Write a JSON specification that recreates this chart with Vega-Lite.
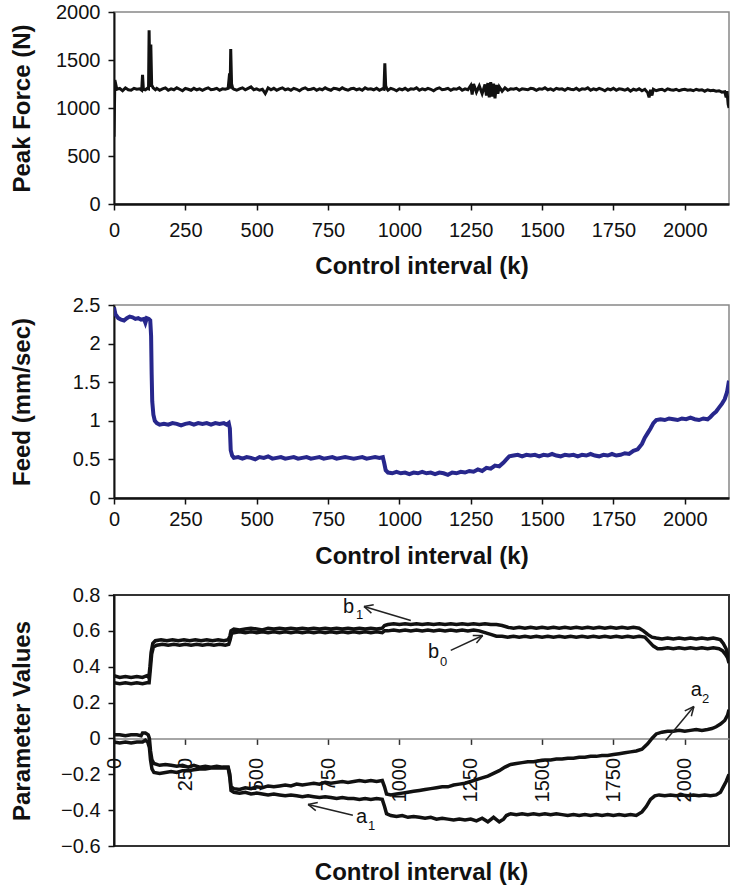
{
"$schema": "https://vega.github.io/schema/vega-lite/v6.json",
"padding": {"left": 8, "top": 1, "right": 1, "bottom": 0},
"spacing": 15,
"config": {"font": "Liberation Sans", "view": {"stroke": "#888", "strokeWidth": 1.5},
 "axis": {"grid": false, "labelFontSize": 20, "labelColor": "#111", "titleFontSize": 24, "titleFontWeight": "bold", "titleColor": "#111", "domainColor": "#111", "domainWidth": 2, "tickColor": "#111", "tickWidth": 1.5, "tickSize": 6, "labelFlush": false, "labelOverlap": false, "labelBound": false}},
"datasets": {
"force": [{"k":0,"v":700},{"k":3,"v":1290},{"k":10,"v":1195},{"k":20,"v":1205},{"k":30,"v":1180},{"k":40,"v":1210},{"k":50,"v":1190},{"k":60,"v":1185},{"k":70,"v":1205},{"k":80,"v":1195},{"k":90,"v":1200},{"k":97,"v":1185},{"k":100,"v":1345},{"k":103,"v":1195},{"k":110,"v":1190},{"k":117,"v":1205},{"k":121,"v":1200},{"k":123,"v":1810},{"k":126,"v":1220},{"k":129,"v":1660},{"k":132,"v":1240},{"k":137,"v":1210},{"k":145,"v":1190},{"k":150,"v":1205},{"k":160,"v":1185},{"k":170,"v":1200},{"k":180,"v":1210},{"k":190,"v":1185},{"k":200,"v":1200},{"k":210,"v":1190},{"k":220,"v":1210},{"k":230,"v":1195},{"k":240,"v":1180},{"k":250,"v":1205},{"k":260,"v":1195},{"k":270,"v":1185},{"k":280,"v":1205},{"k":290,"v":1190},{"k":300,"v":1200},{"k":310,"v":1185},{"k":320,"v":1200},{"k":330,"v":1210},{"k":340,"v":1190},{"k":350,"v":1195},{"k":360,"v":1205},{"k":370,"v":1185},{"k":380,"v":1200},{"k":390,"v":1195},{"k":400,"v":1205},{"k":405,"v":1360},{"k":407,"v":1200},{"k":409,"v":1615},{"k":412,"v":1250},{"k":416,"v":1205},{"k":420,"v":1195},{"k":430,"v":1185},{"k":440,"v":1200},{"k":450,"v":1210},{"k":460,"v":1190},{"k":470,"v":1205},{"k":480,"v":1220},{"k":490,"v":1190},{"k":500,"v":1200},{"k":510,"v":1185},{"k":520,"v":1195},{"k":530,"v":1150},{"k":540,"v":1210},{"k":550,"v":1190},{"k":560,"v":1205},{"k":570,"v":1185},{"k":580,"v":1200},{"k":590,"v":1210},{"k":600,"v":1190},{"k":610,"v":1200},{"k":620,"v":1185},{"k":630,"v":1205},{"k":640,"v":1195},{"k":650,"v":1180},{"k":660,"v":1200},{"k":670,"v":1210},{"k":680,"v":1190},{"k":690,"v":1195},{"k":700,"v":1205},{"k":710,"v":1185},{"k":720,"v":1200},{"k":730,"v":1190},{"k":740,"v":1210},{"k":750,"v":1195},{"k":760,"v":1185},{"k":770,"v":1205},{"k":780,"v":1200},{"k":790,"v":1190},{"k":800,"v":1210},{"k":810,"v":1195},{"k":820,"v":1185},{"k":830,"v":1200},{"k":840,"v":1205},{"k":850,"v":1190},{"k":860,"v":1200},{"k":870,"v":1185},{"k":880,"v":1210},{"k":890,"v":1195},{"k":900,"v":1200},{"k":910,"v":1190},{"k":920,"v":1205},{"k":930,"v":1185},{"k":940,"v":1200},{"k":946,"v":1195},{"k":949,"v":1465},{"k":952,"v":1230},{"k":956,"v":1200},{"k":960,"v":1185},{"k":970,"v":1205},{"k":980,"v":1195},{"k":990,"v":1180},{"k":1000,"v":1200},{"k":1010,"v":1190},{"k":1020,"v":1205},{"k":1030,"v":1185},{"k":1040,"v":1200},{"k":1050,"v":1195},{"k":1060,"v":1210},{"k":1070,"v":1185},{"k":1080,"v":1200},{"k":1090,"v":1190},{"k":1100,"v":1205},{"k":1110,"v":1195},{"k":1120,"v":1180},{"k":1130,"v":1200},{"k":1140,"v":1210},{"k":1150,"v":1190},{"k":1160,"v":1195},{"k":1170,"v":1205},{"k":1180,"v":1185},{"k":1190,"v":1200},{"k":1200,"v":1195},{"k":1210,"v":1210},{"k":1220,"v":1185},{"k":1230,"v":1200},{"k":1240,"v":1190},{"k":1250,"v":1235},{"k":1255,"v":1140},{"k":1260,"v":1250},{"k":1270,"v":1165},{"k":1280,"v":1230},{"k":1290,"v":1150},{"k":1300,"v":1245},{"k":1305,"v":1130},{"k":1310,"v":1260},{"k":1315,"v":1110},{"k":1320,"v":1270},{"k":1325,"v":1120},{"k":1330,"v":1255},{"k":1335,"v":1100},{"k":1340,"v":1240},{"k":1345,"v":1150},{"k":1350,"v":1220},{"k":1360,"v":1175},{"k":1370,"v":1210},{"k":1380,"v":1185},{"k":1390,"v":1200},{"k":1400,"v":1195},{"k":1410,"v":1205},{"k":1420,"v":1185},{"k":1430,"v":1200},{"k":1440,"v":1195},{"k":1450,"v":1190},{"k":1460,"v":1205},{"k":1470,"v":1200},{"k":1480,"v":1185},{"k":1490,"v":1200},{"k":1500,"v":1195},{"k":1510,"v":1210},{"k":1520,"v":1190},{"k":1530,"v":1200},{"k":1540,"v":1185},{"k":1550,"v":1205},{"k":1560,"v":1195},{"k":1570,"v":1200},{"k":1580,"v":1185},{"k":1590,"v":1205},{"k":1600,"v":1195},{"k":1610,"v":1190},{"k":1620,"v":1205},{"k":1630,"v":1185},{"k":1640,"v":1200},{"k":1650,"v":1195},{"k":1660,"v":1210},{"k":1670,"v":1185},{"k":1680,"v":1200},{"k":1690,"v":1190},{"k":1700,"v":1205},{"k":1710,"v":1195},{"k":1720,"v":1180},{"k":1730,"v":1200},{"k":1740,"v":1190},{"k":1750,"v":1205},{"k":1760,"v":1185},{"k":1770,"v":1200},{"k":1780,"v":1195},{"k":1790,"v":1185},{"k":1800,"v":1200},{"k":1810,"v":1175},{"k":1820,"v":1195},{"k":1830,"v":1185},{"k":1840,"v":1200},{"k":1850,"v":1180},{"k":1860,"v":1195},{"k":1870,"v":1160},{"k":1875,"v":1110},{"k":1880,"v":1190},{"k":1885,"v":1130},{"k":1890,"v":1195},{"k":1900,"v":1180},{"k":1910,"v":1190},{"k":1920,"v":1195},{"k":1930,"v":1180},{"k":1940,"v":1200},{"k":1950,"v":1190},{"k":1960,"v":1185},{"k":1970,"v":1195},{"k":1980,"v":1180},{"k":1990,"v":1190},{"k":2000,"v":1195},{"k":2010,"v":1185},{"k":2020,"v":1190},{"k":2030,"v":1180},{"k":2040,"v":1195},{"k":2050,"v":1185},{"k":2060,"v":1190},{"k":2070,"v":1175},{"k":2080,"v":1190},{"k":2090,"v":1180},{"k":2100,"v":1185},{"k":2110,"v":1175},{"k":2120,"v":1180},{"k":2130,"v":1165},{"k":2140,"v":1170},{"k":2145,"v":1110},{"k":2148,"v":1175},{"k":2152,"v":1040},{"k":2155,"v":1000}],
"feed": [{"k":0,"v":2.47},{"k":5,"v":2.38},{"k":15,"v":2.33},{"k":25,"v":2.31},{"k":35,"v":2.3},{"k":45,"v":2.33},{"k":55,"v":2.35},{"k":65,"v":2.34},{"k":75,"v":2.32},{"k":85,"v":2.33},{"k":95,"v":2.31},{"k":105,"v":2.32},{"k":110,"v":2.27},{"k":115,"v":2.33},{"k":122,"v":2.32},{"k":127,"v":2.3},{"k":130,"v":2.1},{"k":132,"v":1.6},{"k":134,"v":1.25},{"k":138,"v":1.08},{"k":143,"v":1.0},{"k":150,"v":0.97},{"k":160,"v":0.95},{"k":175,"v":0.96},{"k":190,"v":0.95},{"k":205,"v":0.97},{"k":220,"v":0.96},{"k":235,"v":0.94},{"k":250,"v":0.96},{"k":265,"v":0.97},{"k":280,"v":0.95},{"k":295,"v":0.97},{"k":310,"v":0.96},{"k":325,"v":0.97},{"k":340,"v":0.95},{"k":355,"v":0.97},{"k":370,"v":0.96},{"k":385,"v":0.97},{"k":395,"v":0.95},{"k":402,"v":0.97},{"k":406,"v":0.9},{"k":409,"v":0.62},{"k":414,"v":0.55},{"k":420,"v":0.52},{"k":435,"v":0.53},{"k":450,"v":0.51},{"k":465,"v":0.53},{"k":480,"v":0.52},{"k":495,"v":0.5},{"k":510,"v":0.53},{"k":525,"v":0.52},{"k":540,"v":0.54},{"k":555,"v":0.51},{"k":570,"v":0.52},{"k":585,"v":0.53},{"k":600,"v":0.51},{"k":615,"v":0.52},{"k":630,"v":0.53},{"k":645,"v":0.51},{"k":660,"v":0.52},{"k":675,"v":0.53},{"k":690,"v":0.51},{"k":705,"v":0.52},{"k":720,"v":0.53},{"k":735,"v":0.51},{"k":750,"v":0.52},{"k":765,"v":0.53},{"k":780,"v":0.51},{"k":795,"v":0.52},{"k":810,"v":0.53},{"k":825,"v":0.52},{"k":840,"v":0.51},{"k":855,"v":0.52},{"k":870,"v":0.53},{"k":885,"v":0.51},{"k":900,"v":0.52},{"k":915,"v":0.53},{"k":930,"v":0.52},{"k":942,"v":0.53},{"k":947,"v":0.45},{"k":952,"v":0.36},{"k":960,"v":0.33},{"k":975,"v":0.32},{"k":990,"v":0.34},{"k":1005,"v":0.32},{"k":1020,"v":0.33},{"k":1035,"v":0.31},{"k":1050,"v":0.33},{"k":1065,"v":0.32},{"k":1080,"v":0.34},{"k":1095,"v":0.32},{"k":1110,"v":0.33},{"k":1125,"v":0.31},{"k":1140,"v":0.33},{"k":1155,"v":0.32},{"k":1170,"v":0.3},{"k":1185,"v":0.33},{"k":1200,"v":0.32},{"k":1215,"v":0.34},{"k":1230,"v":0.33},{"k":1245,"v":0.35},{"k":1260,"v":0.34},{"k":1275,"v":0.37},{"k":1290,"v":0.35},{"k":1305,"v":0.39},{"k":1320,"v":0.38},{"k":1335,"v":0.42},{"k":1350,"v":0.41},{"k":1365,"v":0.46},{"k":1375,"v":0.5},{"k":1385,"v":0.54},{"k":1400,"v":0.55},{"k":1415,"v":0.56},{"k":1430,"v":0.54},{"k":1445,"v":0.56},{"k":1460,"v":0.55},{"k":1475,"v":0.56},{"k":1490,"v":0.54},{"k":1505,"v":0.56},{"k":1520,"v":0.55},{"k":1535,"v":0.57},{"k":1550,"v":0.55},{"k":1565,"v":0.54},{"k":1580,"v":0.56},{"k":1595,"v":0.55},{"k":1610,"v":0.56},{"k":1625,"v":0.54},{"k":1640,"v":0.56},{"k":1655,"v":0.55},{"k":1670,"v":0.57},{"k":1685,"v":0.55},{"k":1700,"v":0.54},{"k":1715,"v":0.56},{"k":1730,"v":0.55},{"k":1745,"v":0.57},{"k":1760,"v":0.55},{"k":1775,"v":0.56},{"k":1790,"v":0.58},{"k":1805,"v":0.57},{"k":1820,"v":0.61},{"k":1835,"v":0.63},{"k":1850,"v":0.7},{"k":1860,"v":0.78},{"k":1870,"v":0.84},{"k":1880,"v":0.9},{"k":1890,"v":0.97},{"k":1900,"v":1.01},{"k":1915,"v":1.02},{"k":1930,"v":1.01},{"k":1945,"v":1.03},{"k":1960,"v":1.02},{"k":1975,"v":1.01},{"k":1990,"v":1.03},{"k":2005,"v":1.02},{"k":2020,"v":1.04},{"k":2035,"v":1.02},{"k":2050,"v":1.01},{"k":2065,"v":1.03},{"k":2080,"v":1.02},{"k":2090,"v":1.05},{"k":2100,"v":1.09},{"k":2110,"v":1.12},{"k":2120,"v":1.17},{"k":2130,"v":1.22},{"k":2140,"v":1.28},{"k":2148,"v":1.37},{"k":2155,"v":1.52}],
"b1": [{"k":0,"v":0.35},{"k":20,"v":0.34},{"k":40,"v":0.345},{"k":60,"v":0.34},{"k":80,"v":0.345},{"k":100,"v":0.34},{"k":115,"v":0.35},{"k":122,"v":0.34},{"k":126,"v":0.4},{"k":130,"v":0.48},{"k":136,"v":0.53},{"k":145,"v":0.545},{"k":165,"v":0.55},{"k":185,"v":0.545},{"k":205,"v":0.55},{"k":225,"v":0.545},{"k":245,"v":0.55},{"k":265,"v":0.545},{"k":285,"v":0.55},{"k":305,"v":0.545},{"k":325,"v":0.55},{"k":345,"v":0.545},{"k":365,"v":0.55},{"k":385,"v":0.545},{"k":400,"v":0.55},{"k":406,"v":0.57},{"k":410,"v":0.6},{"k":420,"v":0.61},{"k":440,"v":0.605},{"k":460,"v":0.61},{"k":480,"v":0.615},{"k":500,"v":0.61},{"k":520,"v":0.605},{"k":540,"v":0.615},{"k":560,"v":0.61},{"k":580,"v":0.615},{"k":600,"v":0.61},{"k":620,"v":0.615},{"k":640,"v":0.61},{"k":660,"v":0.615},{"k":680,"v":0.61},{"k":700,"v":0.615},{"k":720,"v":0.61},{"k":740,"v":0.615},{"k":760,"v":0.61},{"k":780,"v":0.615},{"k":800,"v":0.61},{"k":820,"v":0.615},{"k":840,"v":0.61},{"k":860,"v":0.615},{"k":880,"v":0.61},{"k":900,"v":0.615},{"k":920,"v":0.61},{"k":940,"v":0.615},{"k":948,"v":0.63},{"k":960,"v":0.635},{"k":980,"v":0.64},{"k":1000,"v":0.635},{"k":1020,"v":0.64},{"k":1040,"v":0.635},{"k":1060,"v":0.64},{"k":1080,"v":0.635},{"k":1100,"v":0.64},{"k":1120,"v":0.635},{"k":1140,"v":0.64},{"k":1160,"v":0.635},{"k":1180,"v":0.64},{"k":1200,"v":0.635},{"k":1220,"v":0.64},{"k":1240,"v":0.635},{"k":1260,"v":0.64},{"k":1280,"v":0.635},{"k":1300,"v":0.64},{"k":1320,"v":0.635},{"k":1340,"v":0.635},{"k":1360,"v":0.63},{"k":1380,"v":0.62},{"k":1400,"v":0.615},{"k":1420,"v":0.62},{"k":1440,"v":0.615},{"k":1460,"v":0.62},{"k":1480,"v":0.615},{"k":1500,"v":0.62},{"k":1520,"v":0.615},{"k":1540,"v":0.62},{"k":1560,"v":0.615},{"k":1580,"v":0.62},{"k":1600,"v":0.615},{"k":1620,"v":0.62},{"k":1640,"v":0.615},{"k":1660,"v":0.62},{"k":1680,"v":0.615},{"k":1700,"v":0.62},{"k":1720,"v":0.615},{"k":1740,"v":0.62},{"k":1760,"v":0.615},{"k":1780,"v":0.62},{"k":1800,"v":0.615},{"k":1820,"v":0.62},{"k":1840,"v":0.615},{"k":1855,"v":0.6},{"k":1870,"v":0.58},{"k":1885,"v":0.565},{"k":1900,"v":0.56},{"k":1920,"v":0.555},{"k":1940,"v":0.56},{"k":1960,"v":0.555},{"k":1980,"v":0.56},{"k":2000,"v":0.555},{"k":2020,"v":0.56},{"k":2040,"v":0.555},{"k":2060,"v":0.56},{"k":2080,"v":0.555},{"k":2100,"v":0.56},{"k":2115,"v":0.555},{"k":2125,"v":0.55},{"k":2135,"v":0.53},{"k":2145,"v":0.5},{"k":2150,"v":0.47},{"k":2155,"v":0.45}],
"b0": [{"k":0,"v":0.31},{"k":20,"v":0.305},{"k":40,"v":0.31},{"k":60,"v":0.305},{"k":80,"v":0.31},{"k":100,"v":0.305},{"k":115,"v":0.31},{"k":123,"v":0.31},{"k":127,"v":0.38},{"k":132,"v":0.47},{"k":138,"v":0.51},{"k":150,"v":0.52},{"k":170,"v":0.525},{"k":190,"v":0.52},{"k":210,"v":0.525},{"k":230,"v":0.52},{"k":250,"v":0.525},{"k":270,"v":0.52},{"k":290,"v":0.525},{"k":310,"v":0.52},{"k":330,"v":0.525},{"k":350,"v":0.52},{"k":370,"v":0.525},{"k":390,"v":0.52},{"k":402,"v":0.525},{"k":407,"v":0.55},{"k":412,"v":0.585},{"k":420,"v":0.59},{"k":440,"v":0.595},{"k":460,"v":0.59},{"k":480,"v":0.595},{"k":500,"v":0.59},{"k":520,"v":0.595},{"k":540,"v":0.59},{"k":560,"v":0.595},{"k":580,"v":0.59},{"k":600,"v":0.595},{"k":620,"v":0.59},{"k":640,"v":0.595},{"k":660,"v":0.59},{"k":680,"v":0.595},{"k":700,"v":0.59},{"k":720,"v":0.595},{"k":740,"v":0.59},{"k":760,"v":0.595},{"k":780,"v":0.59},{"k":800,"v":0.595},{"k":820,"v":0.59},{"k":840,"v":0.595},{"k":860,"v":0.59},{"k":880,"v":0.595},{"k":900,"v":0.59},{"k":920,"v":0.595},{"k":940,"v":0.59},{"k":948,"v":0.6},{"k":960,"v":0.6},{"k":980,"v":0.605},{"k":1000,"v":0.6},{"k":1020,"v":0.605},{"k":1040,"v":0.6},{"k":1060,"v":0.605},{"k":1080,"v":0.6},{"k":1100,"v":0.605},{"k":1120,"v":0.6},{"k":1140,"v":0.605},{"k":1160,"v":0.6},{"k":1180,"v":0.605},{"k":1200,"v":0.6},{"k":1220,"v":0.605},{"k":1240,"v":0.6},{"k":1260,"v":0.605},{"k":1280,"v":0.6},{"k":1300,"v":0.59},{"k":1320,"v":0.58},{"k":1340,"v":0.57},{"k":1360,"v":0.57},{"k":1380,"v":0.565},{"k":1400,"v":0.57},{"k":1420,"v":0.565},{"k":1440,"v":0.57},{"k":1460,"v":0.565},{"k":1480,"v":0.57},{"k":1500,"v":0.565},{"k":1520,"v":0.57},{"k":1540,"v":0.565},{"k":1560,"v":0.57},{"k":1580,"v":0.565},{"k":1600,"v":0.57},{"k":1620,"v":0.565},{"k":1640,"v":0.57},{"k":1660,"v":0.565},{"k":1680,"v":0.57},{"k":1700,"v":0.565},{"k":1720,"v":0.57},{"k":1740,"v":0.565},{"k":1760,"v":0.57},{"k":1780,"v":0.565},{"k":1800,"v":0.57},{"k":1820,"v":0.565},{"k":1840,"v":0.57},{"k":1860,"v":0.565},{"k":1875,"v":0.54},{"k":1890,"v":0.515},{"k":1905,"v":0.5},{"k":1920,"v":0.5},{"k":1940,"v":0.505},{"k":1960,"v":0.5},{"k":1980,"v":0.505},{"k":2000,"v":0.5},{"k":2020,"v":0.505},{"k":2040,"v":0.5},{"k":2060,"v":0.505},{"k":2080,"v":0.5},{"k":2100,"v":0.505},{"k":2120,"v":0.5},{"k":2132,"v":0.49},{"k":2142,"v":0.47},{"k":2150,"v":0.45},{"k":2155,"v":0.42}],
"a2": [{"k":0,"v":0.02},{"k":20,"v":0.02},{"k":40,"v":0.015},{"k":60,"v":0.02},{"k":80,"v":0.02},{"k":95,"v":0.015},{"k":100,"v":0.03},{"k":110,"v":0.03},{"k":120,"v":0.02},{"k":124,"v":0.0},{"k":128,"v":-0.07},{"k":133,"v":-0.12},{"k":140,"v":-0.14},{"k":160,"v":-0.15},{"k":180,"v":-0.145},{"k":200,"v":-0.15},{"k":220,"v":-0.155},{"k":240,"v":-0.15},{"k":260,"v":-0.16},{"k":280,"v":-0.15},{"k":300,"v":-0.16},{"k":320,"v":-0.155},{"k":340,"v":-0.16},{"k":360,"v":-0.155},{"k":380,"v":-0.16},{"k":400,"v":-0.16},{"k":406,"v":-0.2},{"k":410,"v":-0.27},{"k":420,"v":-0.28},{"k":440,"v":-0.285},{"k":460,"v":-0.275},{"k":480,"v":-0.28},{"k":500,"v":-0.27},{"k":520,"v":-0.275},{"k":540,"v":-0.265},{"k":560,"v":-0.27},{"k":580,"v":-0.265},{"k":600,"v":-0.26},{"k":620,"v":-0.265},{"k":640,"v":-0.255},{"k":660,"v":-0.26},{"k":680,"v":-0.255},{"k":700,"v":-0.25},{"k":720,"v":-0.255},{"k":740,"v":-0.245},{"k":760,"v":-0.25},{"k":780,"v":-0.245},{"k":800,"v":-0.24},{"k":820,"v":-0.245},{"k":840,"v":-0.24},{"k":860,"v":-0.235},{"k":880,"v":-0.24},{"k":900,"v":-0.235},{"k":920,"v":-0.24},{"k":940,"v":-0.235},{"k":948,"v":-0.27},{"k":955,"v":-0.31},{"k":970,"v":-0.315},{"k":990,"v":-0.31},{"k":1010,"v":-0.305},{"k":1030,"v":-0.3},{"k":1050,"v":-0.295},{"k":1070,"v":-0.29},{"k":1090,"v":-0.285},{"k":1110,"v":-0.28},{"k":1130,"v":-0.275},{"k":1150,"v":-0.27},{"k":1170,"v":-0.27},{"k":1190,"v":-0.26},{"k":1210,"v":-0.255},{"k":1230,"v":-0.25},{"k":1250,"v":-0.24},{"k":1270,"v":-0.23},{"k":1290,"v":-0.22},{"k":1310,"v":-0.21},{"k":1330,"v":-0.195},{"k":1350,"v":-0.18},{"k":1370,"v":-0.16},{"k":1390,"v":-0.145},{"k":1410,"v":-0.14},{"k":1430,"v":-0.135},{"k":1450,"v":-0.13},{"k":1470,"v":-0.13},{"k":1490,"v":-0.125},{"k":1510,"v":-0.12},{"k":1530,"v":-0.12},{"k":1550,"v":-0.115},{"k":1570,"v":-0.115},{"k":1590,"v":-0.11},{"k":1610,"v":-0.11},{"k":1630,"v":-0.105},{"k":1650,"v":-0.105},{"k":1670,"v":-0.1},{"k":1690,"v":-0.1},{"k":1710,"v":-0.095},{"k":1730,"v":-0.095},{"k":1750,"v":-0.09},{"k":1770,"v":-0.085},{"k":1790,"v":-0.08},{"k":1810,"v":-0.075},{"k":1830,"v":-0.07},{"k":1850,"v":-0.06},{"k":1870,"v":-0.03},{"k":1885,"v":0.0},{"k":1900,"v":0.025},{"k":1920,"v":0.035},{"k":1940,"v":0.04},{"k":1960,"v":0.04},{"k":1980,"v":0.045},{"k":2000,"v":0.04},{"k":2020,"v":0.045},{"k":2040,"v":0.05},{"k":2060,"v":0.045},{"k":2080,"v":0.05},{"k":2095,"v":0.055},{"k":2110,"v":0.065},{"k":2125,"v":0.08},{"k":2140,"v":0.1},{"k":2150,"v":0.13},{"k":2155,"v":0.16}],
"a1": [{"k":0,"v":-0.02},{"k":20,"v":-0.025},{"k":40,"v":-0.02},{"k":60,"v":-0.025},{"k":80,"v":-0.02},{"k":100,"v":-0.02},{"k":110,"v":-0.01},{"k":118,"v":-0.02},{"k":124,"v":-0.05},{"k":128,"v":-0.12},{"k":133,"v":-0.17},{"k":140,"v":-0.19},{"k":160,"v":-0.195},{"k":180,"v":-0.19},{"k":200,"v":-0.185},{"k":220,"v":-0.19},{"k":240,"v":-0.18},{"k":260,"v":-0.18},{"k":280,"v":-0.175},{"k":300,"v":-0.17},{"k":320,"v":-0.17},{"k":340,"v":-0.165},{"k":360,"v":-0.165},{"k":380,"v":-0.165},{"k":400,"v":-0.165},{"k":406,"v":-0.22},{"k":410,"v":-0.29},{"k":420,"v":-0.3},{"k":440,"v":-0.305},{"k":460,"v":-0.3},{"k":480,"v":-0.31},{"k":500,"v":-0.305},{"k":520,"v":-0.31},{"k":540,"v":-0.315},{"k":560,"v":-0.31},{"k":580,"v":-0.315},{"k":600,"v":-0.32},{"k":620,"v":-0.315},{"k":640,"v":-0.32},{"k":660,"v":-0.325},{"k":680,"v":-0.32},{"k":700,"v":-0.325},{"k":720,"v":-0.33},{"k":740,"v":-0.325},{"k":760,"v":-0.33},{"k":780,"v":-0.335},{"k":800,"v":-0.33},{"k":820,"v":-0.335},{"k":840,"v":-0.335},{"k":860,"v":-0.34},{"k":880,"v":-0.335},{"k":900,"v":-0.34},{"k":920,"v":-0.335},{"k":940,"v":-0.34},{"k":948,"v":-0.38},{"k":955,"v":-0.42},{"k":970,"v":-0.43},{"k":990,"v":-0.435},{"k":1010,"v":-0.43},{"k":1030,"v":-0.44},{"k":1050,"v":-0.435},{"k":1070,"v":-0.44},{"k":1090,"v":-0.445},{"k":1110,"v":-0.44},{"k":1130,"v":-0.45},{"k":1150,"v":-0.445},{"k":1170,"v":-0.45},{"k":1190,"v":-0.455},{"k":1210,"v":-0.45},{"k":1230,"v":-0.455},{"k":1250,"v":-0.45},{"k":1270,"v":-0.46},{"k":1290,"v":-0.445},{"k":1310,"v":-0.465},{"k":1330,"v":-0.44},{"k":1350,"v":-0.465},{"k":1365,"v":-0.45},{"k":1375,"v":-0.43},{"k":1390,"v":-0.42},{"k":1410,"v":-0.425},{"k":1430,"v":-0.42},{"k":1450,"v":-0.425},{"k":1470,"v":-0.42},{"k":1490,"v":-0.425},{"k":1510,"v":-0.42},{"k":1530,"v":-0.425},{"k":1550,"v":-0.42},{"k":1570,"v":-0.425},{"k":1590,"v":-0.43},{"k":1610,"v":-0.425},{"k":1630,"v":-0.43},{"k":1650,"v":-0.425},{"k":1670,"v":-0.43},{"k":1690,"v":-0.425},{"k":1710,"v":-0.43},{"k":1730,"v":-0.425},{"k":1750,"v":-0.43},{"k":1770,"v":-0.425},{"k":1790,"v":-0.43},{"k":1810,"v":-0.425},{"k":1830,"v":-0.43},{"k":1850,"v":-0.41},{"k":1865,"v":-0.38},{"k":1880,"v":-0.34},{"k":1895,"v":-0.32},{"k":1910,"v":-0.315},{"k":1930,"v":-0.32},{"k":1950,"v":-0.315},{"k":1970,"v":-0.32},{"k":1990,"v":-0.315},{"k":2010,"v":-0.32},{"k":2030,"v":-0.315},{"k":2050,"v":-0.32},{"k":2070,"v":-0.315},{"k":2090,"v":-0.32},{"k":2110,"v":-0.315},{"k":2125,"v":-0.3},{"k":2135,"v":-0.27},{"k":2145,"v":-0.24},{"k":2155,"v":-0.2}],
"lbl": [{"t":"b","k":802,"v":0.697},{"t":"b","k":1100,"v":0.446},{"t":"a","k":2021,"v":0.234},{"t":"a","k":848,"v":-0.474}],
"sub": [{"t":"1","k":848,"v":0.664},{"t":"0","k":1142,"v":0.402},{"t":"2","k":2060,"v":0.195},{"t":"1","k":890,"v":-0.513}],
"arrows": [{"k":1040,"v":0.658,"k2":876,"v2":0.736},{"k":876,"v":0.736,"k2":902,"v2":0.699},{"k":876,"v":0.736,"k2":910,"v2":0.745},{"k":1180,"v":0.491,"k2":1292,"v2":0.574},{"k":1292,"v":0.574,"k2":1257,"v2":0.574},{"k":1292,"v":0.574,"k2":1270,"v2":0.532},{"k":1933,"v":-0.011,"k2":2032,"v2":0.178},{"k":2032,"v":0.178,"k2":2000,"v2":0.154},{"k":2032,"v":0.178,"k2":2023,"v2":0.124},{"k":837,"v":-0.429,"k2":680,"v2":-0.368},{"k":680,"v":-0.368,"k2":707,"v2":-0.403},{"k":680,"v":-0.368,"k2":714,"v2":-0.357}]
},
"vconcat": [
{"width": 615, "height": 192,
 "layer": [{"data": {"name": "force"}, "mark": {"type": "line", "color": "#111", "strokeWidth": 3, "clip": true},
  "encoding": {
   "x": {"field": "k", "type": "quantitative", "scale": {"domain": [0, 2155], "nice": false, "zero": false}, "axis": {"values": [0,250,500,750,1000,1250,1500,1750,2000], "format": "d", "title": "Control interval (k)", "labelPadding": 10, "titlePadding": 14, "domainWidth": 2.5}},
   "y": {"field": "v", "type": "quantitative", "scale": {"domain": [0, 2000], "nice": false}, "axis": {"values": [0,500,1000,1500,2000], "format": "d", "title": "Peak Force (N)", "labelPadding": 8, "titleX": -80, "labelOverlap": false}}}}]},
{"width": 615, "height": 193,
 "layer": [{"data": {"name": "feed"}, "mark": {"type": "line", "color": "#27278c", "strokeWidth": 4, "clip": true},
  "encoding": {
   "x": {"field": "k", "type": "quantitative", "scale": {"domain": [0, 2155], "nice": false, "zero": false}, "axis": {"values": [0,250,500,750,1000,1250,1500,1750,2000], "format": "d", "title": "Control interval (k)", "labelPadding": 5.5, "titlePadding": 14.5, "domainWidth": 2.5}},
   "y": {"field": "v", "type": "quantitative", "scale": {"domain": [0, 2.5], "nice": false}, "axis": {"values": [0,0.5,1,1.5,2,2.5], "format": "~g", "title": "Feed (mm/sec)", "labelPadding": 8, "titleX": -80, "labelOverlap": false}}}}]},
{"width": 615, "height": 251,
 "view": {"stroke": "#333", "strokeWidth": 2},
 "title": {"text": "Control interval (k)", "orient": "bottom", "anchor": "middle", "frame": "group", "fontSize": 24, "fontWeight": "bold", "color": "#111", "offset": 5},
 "layer": [
  {"data": {"name": "b1"}, "mark": {"type": "line", "color": "#111", "strokeWidth": 3.5, "clip": true},
   "encoding": {
    "x": {"field": "k", "type": "quantitative", "scale": {"domain": [0, 2155], "nice": false, "zero": false}, "axis": {"values": [0,250,500,750,1000,1250,1500,1750,2000], "format": "d", "title": null, "offset": -107.6, "labelAngle": 270, "labelPadding": 13, "labelOverlap": false, "domainColor": "#888", "domainWidth": 1.5, "tickColor": "#333"}},
    "y": {"field": "v", "type": "quantitative", "scale": {"domain": [-0.6, 0.8], "nice": false, "zero": false}, "axis": {"tickCount": 7, "labelExpr": "replace(format(datum.value, '.1f'), '0.0', '0')", "title": "Parameter Values", "labelPadding": 8, "titleX": -80, "labelOverlap": false, "labelSeparation": 0}}}},
  {"data": {"name": "b0"}, "mark": {"type": "line", "color": "#111", "strokeWidth": 3.5, "clip": true},
   "encoding": {"x": {"field": "k", "type": "quantitative"}, "y": {"field": "v", "type": "quantitative"}}},
  {"data": {"name": "a2"}, "mark": {"type": "line", "color": "#111", "strokeWidth": 3.5, "clip": true},
   "encoding": {"x": {"field": "k", "type": "quantitative"}, "y": {"field": "v", "type": "quantitative"}}},
  {"data": {"name": "a1"}, "mark": {"type": "line", "color": "#111", "strokeWidth": 3.5, "clip": true},
   "encoding": {"x": {"field": "k", "type": "quantitative"}, "y": {"field": "v", "type": "quantitative"}}},
  {"data": {"name": "arrows"}, "mark": {"type": "rule", "color": "#222", "strokeWidth": 1.5},
   "encoding": {"x": {"field": "k", "type": "quantitative"}, "y": {"field": "v", "type": "quantitative"}, "x2": {"field": "k2"}, "y2": {"field": "v2"}}},
  {"data": {"name": "lbl"}, "mark": {"type": "text", "fontSize": 20, "align": "left", "baseline": "alphabetic", "color": "#111"},
   "encoding": {"x": {"field": "k", "type": "quantitative"}, "y": {"field": "v", "type": "quantitative"}, "text": {"field": "t"}}},
  {"data": {"name": "sub"}, "mark": {"type": "text", "fontSize": 13, "align": "left", "baseline": "alphabetic", "color": "#111"},
   "encoding": {"x": {"field": "k", "type": "quantitative"}, "y": {"field": "v", "type": "quantitative"}, "text": {"field": "t"}}}
 ]}
]
}
